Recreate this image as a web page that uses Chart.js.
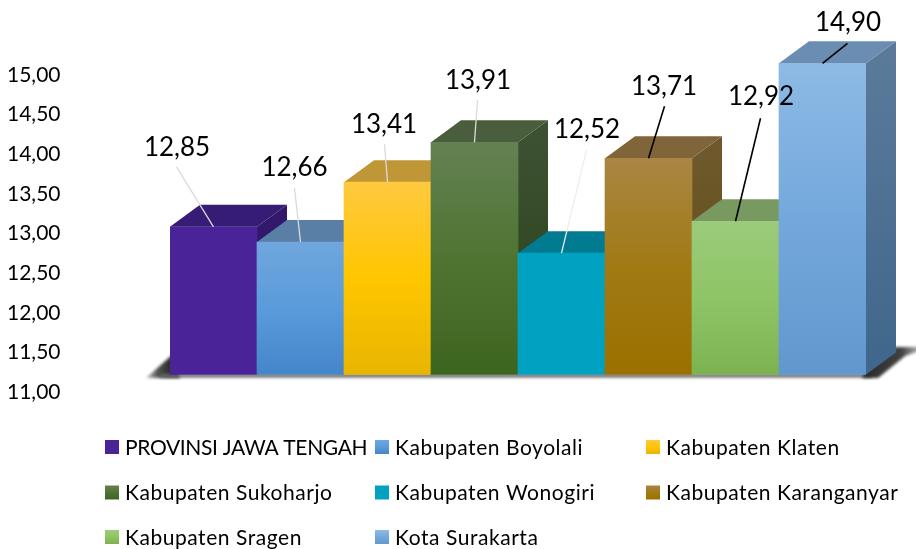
<!DOCTYPE html>
<html>
<head>
<meta charset="utf-8">
<script src="https://cdn.jsdelivr.net/npm/chart.js@4/dist/chart.umd.js"></script>
<style>html,body{margin:0;padding:0;background:#fff}canvas{display:block}</style>
</head>
<body>
<canvas id="c" width="916" height="549"></canvas>
<script>
const categories = ["PROVINSI JAWA TENGAH","Kabupaten Boyolali","Kabupaten Klaten","Kabupaten Sukoharjo","Kabupaten Wonogiri","Kabupaten Karanganyar","Kabupaten Sragen","Kota Surakarta"];
const values = [12.85,12.66,13.41,13.91,12.52,13.71,12.92,14.90];
const tickValues = [11,11.5,12,12.5,13,13.5,14,14.5,15];

// styling
const frontTop = ["#4A2399","#70A6DD","#FFC93F","#648153","#00A1C1","#A98643","#9BCB7B","#8DBAE5"];
const frontMid = ["#4A2399","#5A9BDB","#FFC600","#4F7432","#00A1C1","#A17A14","#8EC566","#74A8DC"];
const frontBot = ["#4A2399","#4486CA","#E8B500","#3C651F","#00A1C1","#9B7000","#7DB251","#6098CD"];
const topFace  = ["#371C76","#5A7FA7","#BF9736","#4A5E3D","#007B92","#80653A","#789A60","#6B8DB2"];
const sideTop  = ["#32196C","#4F7096","#A5822A","#3D5233","#006B80","#6F5A2E","#698A52","#5C7B9B"];
const sideBot  = ["#2E1763","#3B5F88","#8A6C00","#2B421A","#005A6C","#5F4A12","#54793A","#3F668B"];
const labelOffsets = [[-36.5,-79.5],[-6,-74.5],[-3.5,-57.5],[3.5,-61.5],[25.5,-123.5],[15.5,-71.5],[25.5,-124.5],[25.5,-40.5]];
const leaderStart  = [[-37,-60],[-6,-54],[-3,-38],[3,-42],[25,-103],[16,-52],[25,-103],[25,-20]];
const leaderColor  = ["#DADADA","#DADADA","#DADADA","#DADADA","#EDEDED","#000","#000","#000"];
const legendSpacing = ["-0.35px","0.55px","0.55px","0.55px","0.55px","0.55px","0.55px","0.55px"];
const DX = 30, DY = 22;
const FONT = "Lato";

const tickPerUnit = 79.25, barPerUnit = 79.8;
const areaTop = 14, areaBottom = 392, baseY = 374.5;
const areaH = areaBottom - areaTop;
const barMin = 11 - (areaBottom - baseY) / barPerUnit;
const barMax = barMin + areaH / barPerUnit;
const tickMax = 11 + areaH / tickPerUnit;

const depthPlugin = {
  id: "depth",
  beforeDatasetsDraw(chart) {
    const ctx = chart.ctx;
    const bars = chart.getDatasetMeta(0).data;
    // floor shadow
    ctx.save();
    ctx.filter = "blur(1.6px)";
    const g = ctx.createLinearGradient(146, 0, 170, 0);
    g.addColorStop(0, "rgba(80,80,80,0.35)");
    g.addColorStop(0.5, "rgba(60,60,60,0.9)");
    g.addColorStop(1, "rgba(45,45,45,1)");
    ctx.fillStyle = g;
    ctx.beginPath();
    ctx.moveTo(146, 378); ctx.lineTo(172, 355); ctx.lineTo(180, 378);
    ctx.closePath(); ctx.fill();
    ctx.fillStyle = "#666";
    ctx.fillRect(160, 374, 712, 3.5);
    const g2 = ctx.createLinearGradient(860, 0, 916, 0);
    g2.addColorStop(0, "rgba(40,40,40,1)");
    g2.addColorStop(0.75, "rgba(55,55,55,0.95)");
    g2.addColorStop(1, "rgba(90,90,90,0.6)");
    ctx.fillStyle = g2;
    ctx.beginPath();
    ctx.moveTo(862, 378); ctx.lineTo(878, 378); ctx.lineTo(905, 356); ctx.lineTo(919, 351);
    ctx.lineTo(919, 347); ctx.lineTo(895, 347); ctx.lineTo(866, 370);
    ctx.closePath(); ctx.fill();
    ctx.restore();
    bars.forEach((b, i) => {
      const l = b.x - b.width / 2, r = b.x + b.width / 2, t = b.y, bt = b.base;
      const sg = ctx.createLinearGradient(0, t - DY, 0, bt);
      sg.addColorStop(0, sideTop[i]); sg.addColorStop(1, sideBot[i]);
      ctx.fillStyle = sg;
      ctx.beginPath();
      ctx.moveTo(r, t); ctx.lineTo(r + DX, t - DY); ctx.lineTo(r + DX, bt - DY); ctx.lineTo(r, bt);
      ctx.closePath(); ctx.fill();
      ctx.fillStyle = topFace[i];
      ctx.beginPath();
      ctx.moveTo(l, t); ctx.lineTo(l + DX, t - DY); ctx.lineTo(r + DX, t - DY); ctx.lineTo(r, t);
      ctx.closePath(); ctx.fill();
    });
  },
  afterDatasetsDraw(chart) {
    const ctx = chart.ctx;
    const bars = chart.getDatasetMeta(0).data;
    ctx.save();
    bars.forEach((b, i) => {
      const ax = b.x, ay = b.y;
      ctx.strokeStyle = leaderColor[i];
      ctx.lineWidth = i >= 5 ? 1.6 : 1.3;
      ctx.beginPath();
      ctx.moveTo(ax + leaderStart[i][0], ay + leaderStart[i][1]);
      ctx.lineTo(ax, ay);
      ctx.stroke();
      ctx.fillStyle = "#000";
      ctx.font = "26px " + FONT;
      ctx.textAlign = "center";
      ctx.textBaseline = "middle";
      ctx.fillText(values[i].toFixed(2).replace(".", ","), ax + labelOffsets[i][0], ay + labelOffsets[i][1]);
    });
    // legend
    const colX = [105, 375, 646], rowY = [447, 492.5, 537];
    ctx.font = "21px " + FONT;
    ctx.textAlign = "left";
    categories.forEach((name, i) => {
      const x = colX[i % 3], y = rowY[Math.floor(i / 3)];
      const lg = ctx.createLinearGradient(0, y - 7, 0, y + 7);
      lg.addColorStop(0, frontTop[i]); lg.addColorStop(0.5, frontMid[i]); lg.addColorStop(1, frontBot[i]);
      ctx.fillStyle = lg;
      ctx.fillRect(x, y - 7, 14, 14);
      ctx.fillStyle = "#000";
      ctx.letterSpacing = legendSpacing[i];
      ctx.fillText(name, x + 20, y + 1);
    });
    ctx.restore();
  }
};

new Chart(document.getElementById("c"), {
  type: "bar",
  data: {
    labels: categories,
    datasets: [{
      data: values,
      yAxisID: "yBars",
      base: 11,
      barPercentage: 1,
      categoryPercentage: 1,
      borderWidth: 0,
      backgroundColor(c) {
        const i = c.dataIndex, s = c.chart.scales.yBars;
        if (!s || i === undefined) return frontMid[0];
        const y0 = s.getPixelForValue(values[i]), y1 = s.getPixelForValue(11);
        if (!Number.isFinite(y0) || !Number.isFinite(y1)) return frontMid[i];
        const g = c.chart.ctx.createLinearGradient(0, y0, 0, y1);
        g.addColorStop(0, frontTop[i]); g.addColorStop(0.5, frontMid[i]); g.addColorStop(1, frontBot[i]);
        return g;
      }
    }]
  },
  options: {
    responsive: false,
    animation: false,
    layout: { padding: { top: areaTop, right: 50, bottom: 549 - areaBottom, left: 7 } },
    plugins: { legend: { display: false }, tooltip: { enabled: false } },
    scales: {
      x: { display: false },
      yBars: { display: false, min: barMin, max: barMax },
      y: {
        position: "left",
        min: 11, max: tickMax,
        border: { display: false },
        grid: { display: false, drawTicks: false },
        afterBuildTicks(s) { s.ticks = tickValues.map(v => ({ value: v })); },
        afterFit(s) { s.width = 163; },
        ticks: {
          padding: 0,
          crossAlign: "far",
          color: "#000",
          font: { family: FONT, size: 21 },
          callback: v => v.toFixed(2).replace(".", ",")
        }
      }
    }
  },
  plugins: [depthPlugin]
});
</script>
</body>
</html>
